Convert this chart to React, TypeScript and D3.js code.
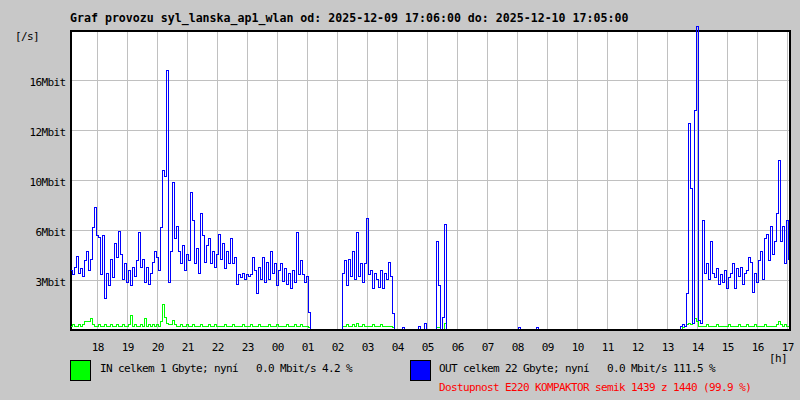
import React from 'react';
import * as d3 from 'd3';

// ---- data ----
const titleText = 'Graf provozu syl_lanska_ap1_wlan od: 2025-12-09 17:06:00 do: 2025-12-10 17:05:00';
const yUnitLabel = '[/s]';
const xUnitLabel = '[h]';
const yTickValues = [3.2, 6.4, 9.6, 12.8, 16.0];
const yTickLabels = ['3Mbit', '6Mbit', '10Mbit', '12Mbit', '16Mbit'];
const hourLabels = ['18', '19', '20', '21', '22', '23', '00', '01', '02', '03', '04', '05', '06', '07', '08', '09', '10', '11', '12', '13', '14', '15', '16', '17'];
const inLegend = 'IN celkem 1 Gbyte; nyní   0.0 Mbit/s 4.2 %';
const outLegend = 'OUT celkem 22 Gbyte; nyní   0.0 Mbit/s 111.5 %';
const availText = 'Dostupnost E220 KOMPAKTOR semik 1439 z 1440 (99.9 %)';

// samples every 4 minutes starting 2025-12-09 17:06, in Mbit/s
const outValues = [
  3.8, 3.5, 4.0, 4.7, 3.6, 3.9, 3.4, 4.4, 5.0, 3.8,
  4.5, 6.5, 7.8, 6.0, 5.9, 3.5, 6.0, 2.0, 3.6, 2.8,
  4.5, 3.3, 5.5, 4.6, 6.3, 4.8, 3.2, 4.2, 3.0, 3.8,
  2.8, 4.0, 3.4, 4.4, 6.2, 4.0, 4.5, 3.0, 4.0, 2.9,
  3.6, 4.3, 5.0, 4.6, 3.8, 6.5, 10.2, 9.8, 16.6, 3.0,
  5.0, 9.4, 5.8, 6.6, 5.0, 4.2, 5.4, 3.8, 4.8, 4.4,
  8.8, 7.0, 4.2, 5.2, 3.6, 7.4, 6.0, 4.3, 5.4, 5.8,
  4.2, 5.0, 4.0, 4.8, 6.1, 4.5, 5.5, 3.9, 5.0, 4.2,
  5.8, 4.2, 4.6, 2.9, 3.5, 3.3, 3.6, 3.2, 3.5, 3.4,
  3.5, 4.6, 3.8, 2.3, 4.0, 3.2, 4.6, 3.0, 4.3, 3.2,
  5.0, 3.6, 4.2, 2.8, 3.8, 4.2, 3.1, 3.9, 2.9, 3.6,
  2.6, 3.8, 3.0, 6.2, 3.5, 4.4, 3.5, 3.0, 3.4, 1.1,
  0, 0, 0, 0, 0, 0, 0, 0, 0, 0,
  0, 0, 0, 0, 0, 0, 3.6, 4.4, 2.8, 4.5,
  3.4, 5.0, 3.2, 6.2, 3.4, 4.2, 3.0, 4.2, 7.1, 3.5,
  3.8, 2.6, 3.6, 3.2, 2.7, 3.8, 2.6, 3.6, 3.2, 4.3,
  3.4, 1.0, 0, 0, 0, 0, 0.1, 0, 0, 0,
  0, 0, 0, 0, 0.2, 0, 0, 0.4, 0, 0,
  0, 0, 0, 5.6, 2.8, 0, 0.8, 6.7, 0, 0,
  0, 0, 0, 0, 0, 0, 0, 0, 0, 0,
  0, 0, 0, 0, 0, 0, 0, 0, 0, 0,
  0, 0, 0, 0, 0, 0, 0, 0, 0, 0,
  0, 0, 0, 0, 0.1, 0, 0, 0, 0, 0,
  0, 0, 0, 0.1, 0, 0, 0, 0, 0, 0,
  0, 0, 0, 0, 0, 0, 0, 0, 0, 0,
  0, 0, 0, 0, 0, 0, 0, 0, 0, 0,
  0, 0, 0, 0, 0, 0, 0, 0, 0, 0,
  0, 0, 0, 0, 0, 0, 0, 0, 0, 0,
  0, 0, 0, 0, 0, 0, 0, 0, 0, 0,
  0, 0, 0, 0, 0, 0, 0, 0, 0, 0,
  0, 0, 0, 0, 0, 0.2, 0.3, 0.2, 2.3, 13.2,
  9.0, 0.4, 14.0, 19.4, 0.6, 0.4, 7.0, 3.6, 4.2, 3.2,
  5.6, 3.6, 3.3, 3.9, 2.9, 3.5, 3.0, 3.8, 2.6, 3.3,
  3.6, 4.2, 2.6, 3.9, 3.4, 4.0, 2.9, 3.6, 3.8, 4.6,
  4.3, 2.4, 3.6, 3.0, 4.4, 5.0, 3.2, 5.8, 6.1, 4.4,
  6.6, 4.8, 5.6, 7.4, 10.8, 5.6, 6.6, 4.2, 7.0, 4.5,
];

const inValues = [
  0.2, 0.3, 0.2, 0.2, 0.3, 0.2, 0.3, 0.5, 0.5, 0.5,
  0.7, 0.3, 0.2, 0.2, 0.3, 0.2, 0.2, 0.3, 0.2, 0.2,
  0.3, 0.2, 0.2, 0.3, 0.2, 0.2, 0.3, 0.2, 0.2, 0.3,
  0.9, 0.2, 0.3, 0.2, 0.2, 0.3, 0.2, 0.7, 0.2, 0.3,
  0.2, 0.3, 0.2, 0.3, 0.2, 0.5, 1.6, 0.8, 0.4, 0.3,
  0.3, 0.6, 0.3, 0.2, 0.2, 0.3, 0.2, 0.2, 0.3, 0.2,
  0.2, 0.3, 0.2, 0.2, 0.2, 0.3, 0.2, 0.2, 0.2, 0.3,
  0.2, 0.2, 0.3, 0.2, 0.2, 0.2, 0.2, 0.3, 0.2, 0.2,
  0.2, 0.3, 0.2, 0.2, 0.2, 0.2, 0.3, 0.2, 0.2, 0.2,
  0.3, 0.2, 0.2, 0.2, 0.3, 0.2, 0.2, 0.2, 0.2, 0.3,
  0.2, 0.2, 0.2, 0.3, 0.2, 0.2, 0.2, 0.2, 0.3, 0.2,
  0.2, 0.2, 0.3, 0.2, 0.2, 0.3, 0.2, 0.2, 0.2, 0.1,
  0, 0, 0, 0, 0, 0, 0, 0, 0, 0,
  0, 0, 0, 0, 0, 0, 0.2, 0.2, 0.3, 0.2,
  0.2, 0.3, 0.2, 0.4, 0.2, 0.2, 0.3, 0.2, 0.2, 0.2,
  0.2, 0.3, 0.2, 0.2, 0.2, 0.3, 0.2, 0.2, 0.2, 0.2,
  0.2, 0.1, 0, 0, 0, 0, 0, 0, 0, 0,
  0, 0, 0, 0, 0, 0, 0, 0, 0, 0,
  0, 0, 0, 0.1, 0.1, 0, 0, 0.4, 0, 0,
  0, 0, 0, 0, 0, 0, 0, 0, 0, 0,
  0, 0, 0, 0, 0, 0, 0, 0, 0, 0,
  0, 0, 0, 0, 0, 0, 0, 0, 0, 0,
  0, 0, 0, 0, 0, 0, 0, 0, 0, 0,
  0, 0, 0, 0, 0, 0, 0, 0, 0, 0,
  0, 0, 0, 0, 0, 0, 0, 0, 0, 0,
  0, 0, 0, 0, 0, 0, 0, 0, 0, 0,
  0, 0, 0, 0, 0, 0, 0, 0, 0, 0,
  0, 0, 0, 0, 0, 0, 0, 0, 0, 0,
  0, 0, 0, 0, 0, 0, 0, 0, 0, 0,
  0, 0, 0, 0, 0, 0, 0, 0, 0, 0,
  0, 0, 0, 0, 0, 0, 0.1, 0.2, 0.3, 0.4,
  0.3, 0.4, 0.7, 0.5, 0.2, 0.2, 0.2, 0.2, 0.3, 0.2,
  0.2, 0.2, 0.2, 0.3, 0.2, 0.2, 0.2, 0.2, 0.2, 0.3,
  0.2, 0.2, 0.2, 0.2, 0.3, 0.2, 0.2, 0.2, 0.3, 0.2,
  0.2, 0.2, 0.3, 0.2, 0.2, 0.2, 0.2, 0.3, 0.2, 0.2,
  0.2, 0.2, 0.2, 0.3, 0.5, 0.3, 0.2, 0.3, 0.2, 0.2,
];

const START = Date.UTC(2025, 11, 9, 17, 6);
const FIRST_HOUR = Date.UTC(2025, 11, 9, 18, 0);
const STEP_MS = 4 * 60 * 1000;
const HOUR_MS = 3600 * 1000;

const BG = '#c8c8c8';
const GRID = '#c0c0c0';
const MONO = '"DejaVu Sans Mono", "Liberation Mono", monospace';

export default function App() {
  const left = 70, right = 790, top = 30, bottom = 330;
  const x = d3.scaleUtc().domain([new Date(START), new Date(START + 24 * HOUR_MS)]).range([left, right]);
  const y = d3.scaleLinear().domain([0, 19.2]).range([bottom, top]);

  const times = outValues.map((_, i) => new Date(START + i * STEP_MS));
  const line = d3.line<number>()
    .x((_, i) => Math.round(x(times[i])) + 0.5)
    .y((d) => Math.round(y(d)) - 0.5)
    .curve(d3.curveStepAfter);

  const hourTimes = hourLabels.map((_, k) => new Date(FIRST_HOUR + k * HOUR_MS));
  const px = (v: number) => Math.round(v) + 0.5;
  const small = { fontFamily: MONO, fontSize: 11, letterSpacing: -0.62 } as const;

  return (
    <svg width={800} height={400} style={{ position: 'absolute', left: 0, top: 0, display: 'block' }}
      xmlns="http://www.w3.org/2000/svg">
      <rect x={0} y={0} width={800} height={400} fill={BG} />
      <rect x={left} y={top} width={right - left} height={bottom - top} fill="#ffffff" />

      {/* grid */}
      <g stroke={GRID} strokeWidth={1} shapeRendering="crispEdges">
        {hourTimes.map((t, k) => (
          <line key={'vx' + k} x1={px(x(t))} x2={px(x(t))} y1={top} y2={bottom} />
        ))}
        {yTickValues.map((v, k) => (
          <line key={'hy' + k} x1={left} x2={right} y1={px(y(v))} y2={px(y(v))} />
        ))}
      </g>

      {/* frame top/left/right */}
      <g stroke="#000" strokeWidth={2} shapeRendering="crispEdges">
        <line x1={left} x2={right + 1} y1={top + 1} y2={top + 1} />
        <line x1={left + 1} x2={left + 1} y1={top} y2={bottom + 1} />
        <line x1={right} x2={right} y1={top} y2={bottom + 1} />
      </g>

      {/* series */}
      <path d={line(inValues) || ''} fill="none" stroke="#00ff00" strokeWidth={1} shapeRendering="crispEdges" />
      <path d={line(outValues) || ''} fill="none" stroke="#0000ff" strokeWidth={1} shapeRendering="crispEdges" />

      {/* bottom axis line */}
      <line x1={left} x2={right + 1} y1={bottom} y2={bottom} stroke="#000" strokeWidth={2} shapeRendering="crispEdges" />

      {/* title */}
      <text x={70} y={22} fontFamily={MONO} fontWeight="bold" fontSize={11.6} fill="#000">{titleText}</text>

      {/* y labels */}
      <text x={15} y={40} {...small} fill="#000">{yUnitLabel}</text>
      {yTickValues.map((v, k) => (
        <text key={'yl' + k} x={65.6} y={y(v) + 5.5} textAnchor="end" {...small} fill="#000">{yTickLabels[k]}</text>
      ))}

      {/* x labels */}
      {hourTimes.map((t, k) => (
        <text key={'xl' + k} x={x(t) + 0.8} y={351} textAnchor="middle" {...small} fill="#000">{hourLabels[k]}</text>
      ))}
      <text x={769} y={362} {...small} fill="#000">{xUnitLabel}</text>

      {/* legend */}
      <rect x={70.5} y={360.5} width={20} height={20} fill="#00ff00" stroke="#000" strokeWidth={1} />
      <text x={100} y={372} {...small} fill="#000" style={{ whiteSpace: 'pre' }}>{inLegend}</text>
      <rect x={410.5} y={360.5} width={20} height={20} fill="#0000ff" stroke="#000" strokeWidth={1} />
      <text x={439} y={372} {...small} fill="#000" style={{ whiteSpace: 'pre' }}>{outLegend}</text>
      <text x={439} y={391} {...small} fill="#ff0000" style={{ whiteSpace: 'pre' }}>{availText}</text>
    </svg>
  );
}
